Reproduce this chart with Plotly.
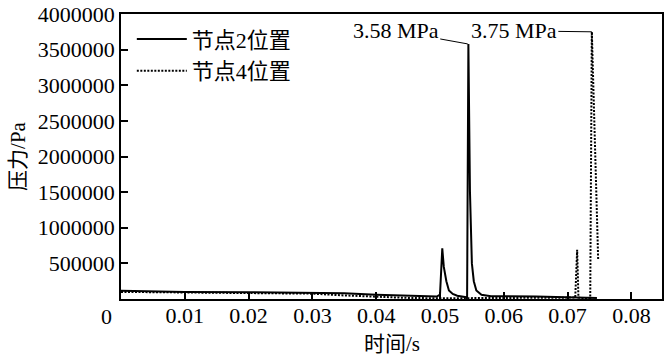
import plotly.graph_objects as go

# 节点2位置 (solid)
t_node2 = [0.0, 0.003, 0.01, 0.02, 0.03, 0.035, 0.04, 0.045, 0.0495, 0.0500, 0.05036,
           0.0506, 0.0510, 0.0514, 0.0520, 0.0527, 0.0535, 0.0541, 0.05425, 0.05435,
           0.05445, 0.0547, 0.0550, 0.0553, 0.0557, 0.0565, 0.058, 0.065, 0.070, 0.0746]
p_node2 = [115000, 110000, 100000, 95000, 90000, 80000, 60000, 45000, 35000, 60000, 710000,
           450000, 250000, 120000, 70000, 45000, 35000, 25000, 5000, 3580000,
           3580000, 1500000, 500000, 250000, 120000, 60000, 40000, 35000, 30000, 15000]

# 节点4位置 (dotted)
t_node4 = [0.0, 0.01, 0.02, 0.03, 0.035, 0.04, 0.045, 0.05, 0.053, 0.056, 0.06, 0.065,
           0.070, 0.0712, 0.0715, 0.0717, 0.0722, 0.0730, 0.07355, 0.0738, 0.0748]
p_node4 = [100000, 95000, 90000, 75000, 50000, 30000, 15000, 10000, 10000, 15000, 20000, 20000,
           20000, 20000, 690000, 20000, 15000, 10000, 10000, 3750000, 540000]

series_names = ["节点2位置", "节点4位置"]
peak_labels = ["3.58 MPa", "3.75 MPa"]
x_ticks = [0.01, 0.02, 0.03, 0.04, 0.05, 0.06, 0.07, 0.08]
y_ticks = [500000, 1000000, 1500000, 2000000, 2500000, 3000000, 3500000, 4000000]

FONT = "Liberation Serif, Times New Roman, Noto Sans CJK SC"
FS = 22

fig = go.Figure()
fig.add_trace(go.Scatter(x=t_node2, y=p_node2, mode="lines", name=series_names[0],
                         line=dict(color="black", width=2)))
fig.add_trace(go.Scatter(x=t_node4, y=p_node4, mode="lines", name=series_names[1],
                         line=dict(color="black", width=2, dash="2px,1.5px")))

# peak annotations
i2 = p_node2.index(max(p_node2))
i4 = p_node4.index(max(p_node4))
fig.add_annotation(x=t_node2[i2], y=p_node2[i2], text=peak_labels[0], showarrow=True,
                   arrowhead=0, arrowwidth=1, arrowcolor="black", ax=-72, ay=-13,
                   font=dict(size=FS, color="black", family=FONT))
fig.add_annotation(x=t_node4[i4], y=p_node4[i4], text=peak_labels[1], showarrow=True,
                   arrowhead=0, arrowwidth=1, arrowcolor="black", ax=-78, ay=-1,
                   font=dict(size=FS, color="black", family=FONT))

# origin label and x title
fig.add_annotation(x=-0.026, y=-0.062, xref="paper", yref="paper", text="0", showarrow=False,
                   xanchor="center", yanchor="middle", font=dict(size=FS, color="black", family=FONT))
fig.add_annotation(x=0.5, y=-0.157, xref="paper", yref="paper", text="时间/s",
                   showarrow=False, xanchor="center", yanchor="middle",
                   font=dict(size=21, color="black", family=FONT))

axis_common = dict(showgrid=False, zeroline=False, showline=True, linecolor="black", linewidth=1.5,
                   mirror=True, ticks="inside", ticklen=7, tickwidth=1.5, tickcolor="black",
                   tickfont=dict(size=FS, color="black", family=FONT))
fig.update_xaxes(range=[0, 0.0848], tickvals=x_ticks, ticktext=[str(v) for v in x_ticks],
                 ticklabelstandoff=-4, **axis_common)
fig.update_yaxes(range=[0, 4000000], tickvals=y_ticks, ticktext=[str(v) for v in y_ticks],
                 title=dict(text="压力/Pa", standoff=6, font=dict(size=21, color="black", family=FONT)),
                 **axis_common)

fig.update_layout(
    width=665, height=355,
    margin=dict(l=121, r=1, t=14, b=56),
    paper_bgcolor="white", plot_bgcolor="white",
    showlegend=True,
    legend=dict(x=0.02, y=0.985, xanchor="left", yanchor="top", bgcolor="rgba(0,0,0,0)",
                font=dict(size=FS, color="black", family=FONT), itemwidth=50,
                tracegroupgap=0),
    font=dict(family=FONT, color="black"),
)

fig.write_html("out.html")
